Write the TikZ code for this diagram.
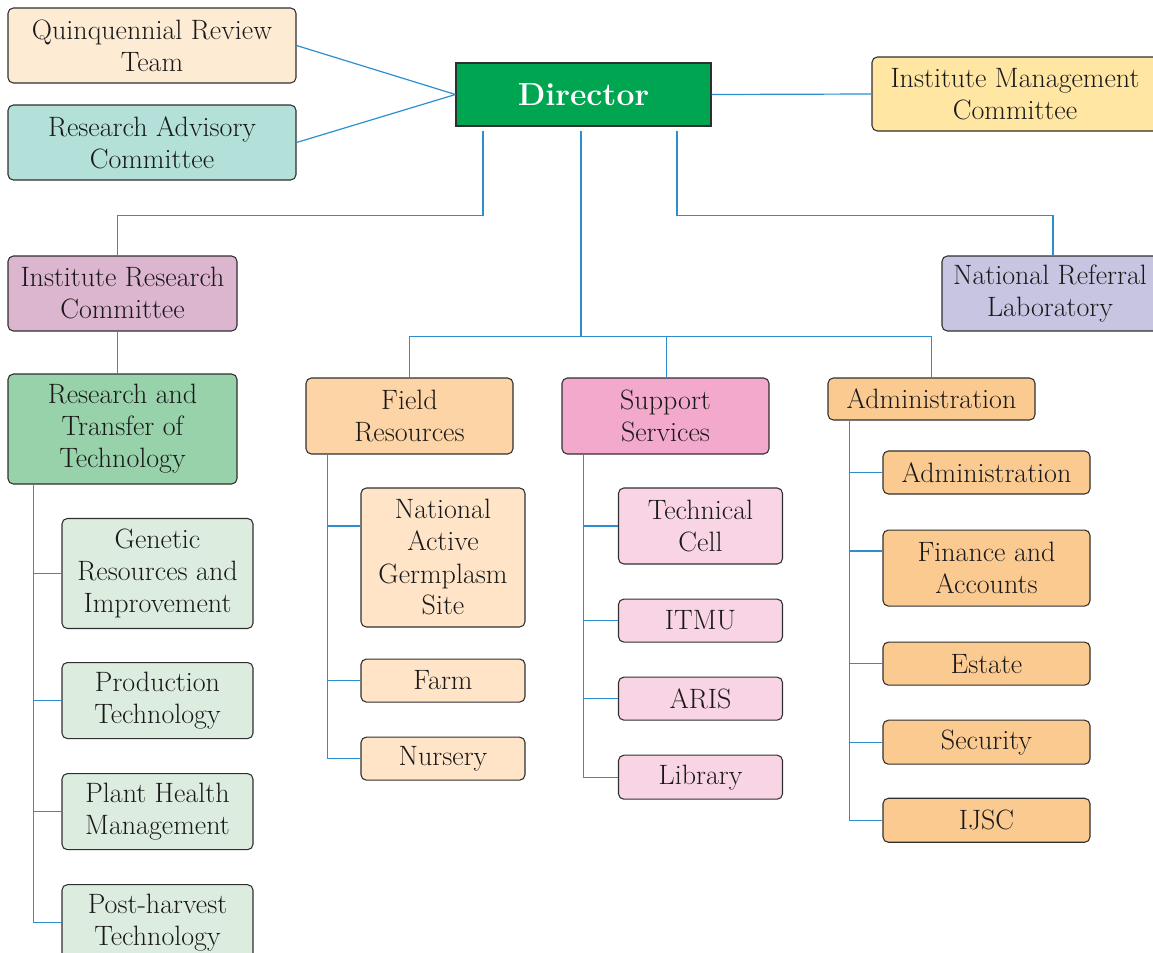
\documentclass[tikz,border=0pt]{standalone}
\usetikzlibrary{positioning}
\definecolor{linkblue}{HTML}{2B8FCF}
\definecolor{boxline}{HTML}{2F2F2F}
\definecolor{dirgreen}{HTML}{00A551}
\definecolor{qrtfill}{HTML}{FDEBD4}
\definecolor{racfill}{HTML}{B3E0D8}
\definecolor{imcfill}{HTML}{FFE6A3}
\definecolor{ircfill}{HTML}{DCB5CF}
\definecolor{nrlfill}{HTML}{C8C5E2}
\definecolor{rttfill}{HTML}{98D2AA}
\definecolor{rtcfill}{HTML}{DCEDDF}
\definecolor{frfill}{HTML}{FCD4A6}
\definecolor{frcfill}{HTML}{FFE4C8}
\definecolor{ssfill}{HTML}{F2A9CB}
\definecolor{sscfill}{HTML}{F9D4E5}
\definecolor{admfill}{HTML}{FBCA91}
\begin{document}
\begin{tikzpicture}[x=0.75pt, y=-0.75pt,
    box/.style = {draw=boxline, line width=0.8pt, rounded corners=4pt, align=center, inner sep=0pt,
                  font=\fontsize{21}{24}\selectfont, text=black!90},
    wide/.style = {box, minimum width=216pt, minimum height=56.25pt},
    mid/.style = {box, minimum width=171.75pt},
    unit/.style = {box, minimum width=155.25pt},
    small/.style = {box, minimum width=123pt},
    lower/.style = {box, minimum width=143.25pt},
    link/.style = {draw=linkblue, line width=0.9pt}]
    \useasboundingbox (0,0) rectangle (1153,953);

    % top level
    \node[box, rounded corners=0pt, fill=dirgreen, minimum width=191.25pt, minimum height=47.25pt,
          font=\fontsize{24}{28}\selectfont\bfseries, text=white] (dir) at (583.5,94.5) {Director};
    \node[wide, fill=qrtfill] (qrt) at (152,45.5) {Quinquennial Review\\Team};
    \node[wide, fill=racfill] (rac) at (152,142.5) {Research Advisory\\Committee};
    \node[wide, fill=imcfill, minimum width=214.5pt, minimum height=55.5pt] (imc) at (1015,94) {Institute Management\\Committee};
    \node[mid, fill=ircfill, minimum height=56.25pt] (irc) at (122.5,293.5) {Institute Research\\Committee};
    \node[box, fill=nrlfill, minimum width=162pt, minimum height=56.25pt] (nrl) at (1050,293.5) {National Referral\\Laboratory};
    \node[mid, fill=rttfill, minimum height=82.5pt] (rtt) at (122.5,429) {Research and\\Transfer of\\Technology};

    \node[unit, fill=frfill, minimum height=57pt] (fr) at (409.5,416) {Field\\Resources};
    \node[unit, fill=ssfill, minimum height=57pt] (ss) at (665.5,416) {Support\\Services};
    \node[unit, fill=admfill, minimum height=31.5pt] (adm) at (931.5,399) {Administration};

    % research and transfer of technology
    \node[lower, fill=rtcfill, minimum height=82.5pt] (gen) at (157.5,573.5) {Genetic\\Resources and\\Improvement};
    \node[lower, fill=rtcfill, minimum height=57pt] (prod) [below=24.75pt of gen] {Production\\Technology};
    \node[lower, fill=rtcfill, minimum height=57pt] (plant) [below=25.5pt of prod] {Plant Health\\Management};
    \node[lower, fill=rtcfill, minimum height=57pt] (post) [below=25.5pt of plant] {Post-harvest\\Technology};

    % field resources
    \node[small, fill=frcfill, minimum height=104.25pt] (nags) at (443,557.5) {National\\Active\\Germplasm\\Site};
    \node[small, fill=frcfill, minimum height=32.25pt] (farm) [below=23.25pt of nags] {Farm};
    \node[small, fill=frcfill, minimum height=32.25pt] (nursery) [below=25.5pt of farm] {Nursery};

    % support services
    \node[small, fill=sscfill, minimum height=57pt] (tc) at (700.5,526) {Technical\\Cell};
    \node[small, fill=sscfill, minimum height=32.25pt] (itmu) [below=25.5pt of tc] {ITMU};
    \node[small, fill=sscfill, minimum height=32.25pt] (aris) [below=25.5pt of itmu] {ARIS};
    \node[small, fill=sscfill, minimum height=33pt] (lib) [below=25.5pt of aris] {Library};

    % administration
    \node[unit, fill=admfill, minimum height=32.25pt] (adm1) at (986.5,472.5) {Administration};
    \node[unit, fill=admfill, minimum height=57pt] (fin) [below=26.25pt of adm1] {Finance and\\Accounts};
    \node[unit, fill=admfill, minimum height=32.25pt] (est) [below=26.25pt of fin] {Estate};
    \node[unit, fill=admfill, minimum height=33pt] (sec) [below=25.5pt of est] {Security};
    \node[unit, fill=admfill, minimum height=33pt] (ijsc) [below=24.75pt of sec] {IJSC};

    % connectors
    \draw[link] (qrt.east) -- (dir.west);
    \draw[link] (rac.east) -- (dir.west);
    \draw[link] (dir.east) -- (imc.west);
    \draw[link] ([xshift=-75.4pt,yshift=-3pt]dir.south) -- ++(0,85) -| ([xshift=-4pt]irc.north);
    \draw[link] ([xshift=70.1pt,yshift=-3pt]dir.south) -- ++(0,85) -| ([xshift=2.3pt]nrl.north);
    \draw[link] ([xshift=-1.9pt,yshift=-3pt]dir.south) -- ++(0,206) coordinate (hub);
    \draw[link] (fr.north) |- (hub) -| (adm.north);
    \draw[link] ([xshift=1pt]ss.north) -- ([xshift=1pt]ss.north |- hub);
    \draw[link] ([xshift=-4pt]irc.south) -- ([xshift=-4pt]rtt.north);

    \coordinate (rtx) at ([xshift=19.5pt]rtt.south west);
    \draw[link] (rtx) |- (post.west);
    \foreach \n in {gen,prod,plant}
        \draw[link] (\n.west) -- (\n.west -| rtx);

    \coordinate (frx) at ([xshift=16.5pt]fr.south west);
    \draw[link] (frx) |- (nursery.west);
    \draw[link] (farm.west) -- (farm.west -| frx);
    \draw[link] ([yshift=23.6pt]nags.west) -- ([yshift=23.6pt]nags.west -| frx);

    \coordinate (ssx) at ([xshift=16.5pt]ss.south west);
    \draw[link] (ssx) |- (lib.west);
    \foreach \n in {tc,itmu,aris}
        \draw[link] (\n.west) -- (\n.west -| ssx);

    \coordinate (admx) at ([xshift=16.5pt]adm.south west);
    \draw[link] (admx) |- (ijsc.west);
    \foreach \n in {adm1,est,sec}
        \draw[link] (\n.west) -- (\n.west -| admx);
    \draw[link] ([yshift=12.75pt]fin.west) -- ([yshift=12.75pt]fin.west -| admx);
\end{tikzpicture}
\end{document}
